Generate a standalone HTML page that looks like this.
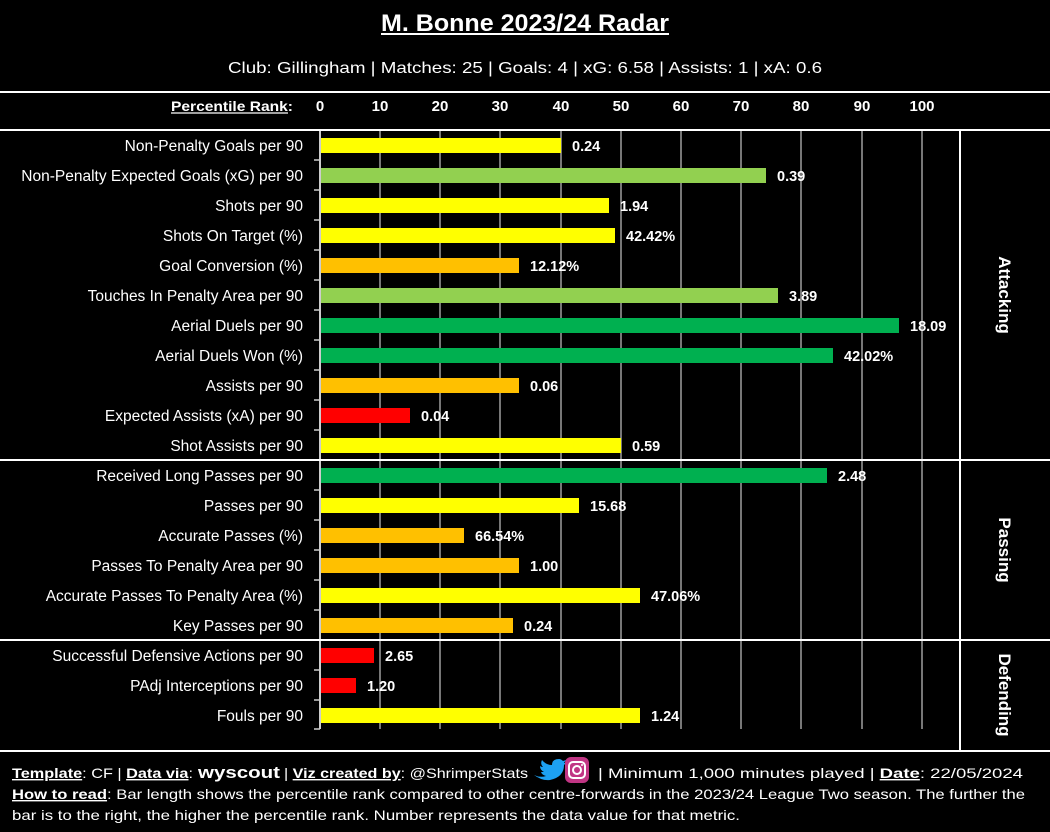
<!DOCTYPE html>
<html><head><meta charset="utf-8"><style>
html,body{margin:0;padding:0;background:#000;}
svg{display:block;font-family:"Liberation Sans",sans-serif;}
</style></head><body>
<svg width="1050" height="832" viewBox="0 0 1050 832">
<rect width="1050" height="832" fill="#000"/>
<text x="525" y="31" fill="#fff" font-size="24" font-weight="bold" text-anchor="middle" textLength="288" lengthAdjust="spacingAndGlyphs">M. Bonne 2023/24 Radar</text>
<line x1="381" y1="34" x2="669" y2="34" stroke="#fff" stroke-width="2"/>
<text x="525" y="73" fill="#fff" font-size="16" text-anchor="middle" textLength="594" lengthAdjust="spacingAndGlyphs">Club: Gillingham | Matches: 25 | Goals: 4 | xG: 6.58 | Assists: 1 | xA: 0.6</text>
<line x1="0" y1="92" x2="1050" y2="92" stroke="#fff" stroke-width="2"/>
<line x1="0" y1="130" x2="1050" y2="130" stroke="#fff" stroke-width="2"/>
<text x="171" y="111" fill="#fff" font-size="14" font-weight="bold" textLength="122" lengthAdjust="spacingAndGlyphs">Percentile Rank:</text>
<line x1="171" y1="113" x2="288" y2="113" stroke="#fff" stroke-width="1.2"/>
<g fill="#fff" font-size="15" font-weight="bold" text-anchor="middle">
<text x="320" y="111">0</text><text x="380" y="111">10</text><text x="440" y="111">20</text><text x="500" y="111">30</text><text x="561" y="111">40</text><text x="621" y="111">50</text><text x="681" y="111">60</text><text x="741" y="111">70</text><text x="801" y="111">80</text><text x="862" y="111">90</text><text x="922" y="111">100</text>
</g>
<g stroke="#777" stroke-width="2">
<line x1="380" y1="131" x2="380" y2="729"/><line x1="440" y1="131" x2="440" y2="729"/><line x1="500" y1="131" x2="500" y2="729"/><line x1="561" y1="131" x2="561" y2="729"/><line x1="621" y1="131" x2="621" y2="729"/><line x1="681" y1="131" x2="681" y2="729"/><line x1="741" y1="131" x2="741" y2="729"/><line x1="801" y1="131" x2="801" y2="729"/><line x1="862" y1="131" x2="862" y2="729"/><line x1="922" y1="131" x2="922" y2="729"/>
</g>
<line x1="320" y1="131" x2="320" y2="729" stroke="#ccc" stroke-width="2"/>
<g stroke="#ccc" stroke-width="1.5">
<line x1="314" y1="160" x2="320" y2="160"/><line x1="314" y1="190" x2="320" y2="190"/><line x1="314" y1="220" x2="320" y2="220"/><line x1="314" y1="250" x2="320" y2="250"/><line x1="314" y1="280" x2="320" y2="280"/><line x1="314" y1="310" x2="320" y2="310"/><line x1="314" y1="340" x2="320" y2="340"/><line x1="314" y1="370" x2="320" y2="370"/><line x1="314" y1="400" x2="320" y2="400"/><line x1="314" y1="430" x2="320" y2="430"/><line x1="314" y1="490" x2="320" y2="490"/><line x1="314" y1="520" x2="320" y2="520"/><line x1="314" y1="550" x2="320" y2="550"/><line x1="314" y1="580" x2="320" y2="580"/><line x1="314" y1="610" x2="320" y2="610"/><line x1="314" y1="670" x2="320" y2="670"/><line x1="314" y1="700" x2="320" y2="700"/><line x1="314" y1="729" x2="320" y2="729"/>
</g>
<g>
<rect x="321" y="138" width="240" height="15" fill="#ffff00"/>
<rect x="321" y="168" width="445" height="15" fill="#92d050"/>
<rect x="321" y="198" width="288" height="15" fill="#ffff00"/>
<rect x="321" y="228" width="294" height="15" fill="#ffff00"/>
<rect x="321" y="258" width="198" height="15" fill="#ffc000"/>
<rect x="321" y="288" width="457" height="15" fill="#92d050"/>
<rect x="321" y="318" width="578" height="15" fill="#00b050"/>
<rect x="321" y="348" width="512" height="15" fill="#00b050"/>
<rect x="321" y="378" width="198" height="15" fill="#ffc000"/>
<rect x="321" y="408" width="89" height="15" fill="#ff0000"/>
<rect x="321" y="438" width="300" height="15" fill="#ffff00"/>
<rect x="321" y="468" width="506" height="15" fill="#00b050"/>
<rect x="321" y="498" width="258" height="15" fill="#ffff00"/>
<rect x="321" y="528" width="143" height="15" fill="#ffc000"/>
<rect x="321" y="558" width="198" height="15" fill="#ffc000"/>
<rect x="321" y="588" width="319" height="15" fill="#ffff00"/>
<rect x="321" y="618" width="192" height="15" fill="#ffc000"/>
<rect x="321" y="648" width="53" height="15" fill="#ff0000"/>
<rect x="321" y="678" width="35" height="15" fill="#ff0000"/>
<rect x="321" y="708" width="319" height="15" fill="#ffff00"/>
</g>
<g fill="#fff" font-size="14.5" font-weight="bold">
<text x="572" y="151">0.24</text><text x="777" y="181">0.39</text><text x="620" y="211">1.94</text><text x="626" y="241">42.42%</text><text x="530" y="271">12.12%</text><text x="789" y="301">3.89</text><text x="910" y="331">18.09</text><text x="844" y="361">42.02%</text><text x="530" y="391">0.06</text><text x="421" y="421">0.04</text><text x="632" y="451">0.59</text><text x="838" y="481">2.48</text><text x="590" y="511">15.68</text><text x="475" y="541">66.54%</text><text x="530" y="571">1.00</text><text x="651" y="601">47.06%</text><text x="524" y="631">0.24</text><text x="385" y="661">2.65</text><text x="367" y="691">1.20</text><text x="651" y="721">1.24</text>
</g>
<g fill="#fff" font-size="15.5" text-anchor="end">
<text x="303" y="151">Non-Penalty Goals per 90</text>
<text x="303" y="181">Non-Penalty Expected Goals (xG) per 90</text>
<text x="303" y="211">Shots per 90</text>
<text x="303" y="241">Shots On Target (%)</text>
<text x="303" y="271">Goal Conversion (%)</text>
<text x="303" y="301">Touches In Penalty Area per 90</text>
<text x="303" y="331">Aerial Duels per 90</text>
<text x="303" y="361">Aerial Duels Won (%)</text>
<text x="303" y="391">Assists per 90</text>
<text x="303" y="421">Expected Assists (xA) per 90</text>
<text x="303" y="451">Shot Assists per 90</text>
<text x="303" y="481">Received Long Passes per 90</text>
<text x="303" y="511">Passes per 90</text>
<text x="303" y="541">Accurate Passes (%)</text>
<text x="303" y="571">Passes To Penalty Area per 90</text>
<text x="303" y="601">Accurate Passes To Penalty Area (%)</text>
<text x="303" y="631">Key Passes per 90</text>
<text x="303" y="661">Successful Defensive Actions per 90</text>
<text x="303" y="691">PAdj Interceptions per 90</text>
<text x="303" y="721">Fouls per 90</text>
</g>
<line x1="0" y1="460" x2="1050" y2="460" stroke="#fff" stroke-width="2"/>
<line x1="0" y1="640" x2="1050" y2="640" stroke="#fff" stroke-width="2"/>
<line x1="960" y1="130" x2="960" y2="751" stroke="#fff" stroke-width="2"/>
<line x1="0" y1="751" x2="1050" y2="751" stroke="#fff" stroke-width="2"/>
<g fill="#fff" font-size="17" font-weight="bold" text-anchor="middle">
<text transform="translate(999,295) rotate(90)">Attacking</text>
<text transform="translate(999,550) rotate(90)">Passing</text>
<text transform="translate(999,695) rotate(90)">Defending</text>
</g>
<g fill="#fff" font-size="14">
<text x="12" y="778" textLength="181" lengthAdjust="spacingAndGlyphs"><tspan font-weight="bold" text-decoration="underline">Template</tspan>: CF | <tspan font-weight="bold" text-decoration="underline">Data via</tspan>:</text>
<text x="198" y="778" font-weight="bold" font-size="17" textLength="82" lengthAdjust="spacingAndGlyphs">wyscout</text>
<text x="284" y="778" textLength="244" lengthAdjust="spacingAndGlyphs">| <tspan font-weight="bold" text-decoration="underline">Viz created by</tspan>: @ShrimperStats</text>
<text x="598" y="778" textLength="425" lengthAdjust="spacingAndGlyphs">| Minimum 1,000 minutes played | <tspan font-weight="bold" text-decoration="underline">Date</tspan>: 22/05/2024</text>
<text x="12" y="799" textLength="1013" lengthAdjust="spacingAndGlyphs"><tspan font-weight="bold" text-decoration="underline">How to read</tspan>: Bar length shows the percentile rank compared to other centre-forwards in the 2023/24 League Two season. The further the</text>
<text x="12" y="820" textLength="728" lengthAdjust="spacingAndGlyphs">bar is to the right, the higher the percentile rank. Number represents the data value for that metric.</text>
</g>
<path d="M534,775 q6,3 12,1 q-4,-1 -5,-4 q2,0 3,0 q-4,-2 -4,-6 q1,1 3,1 q-3,-3 -1,-7 q4,5 10,5 q0,-6 7,-6 q2,0 4,2 l3,-1 l-2,3 l2,0 l-2,2 q0,12 -14,15 q-8,1 -16,-5z" fill="#1da1f2"/>
<rect x="565" y="757" width="24" height="26" rx="6" fill="#c13584"/>
<rect x="569" y="762" width="16" height="16" rx="4" fill="none" stroke="#fff" stroke-width="2"/>
<circle cx="577" cy="770" r="4" fill="none" stroke="#fff" stroke-width="2"/>
<circle cx="582" cy="765" r="1" fill="#fff"/>
</svg>
</body></html>
